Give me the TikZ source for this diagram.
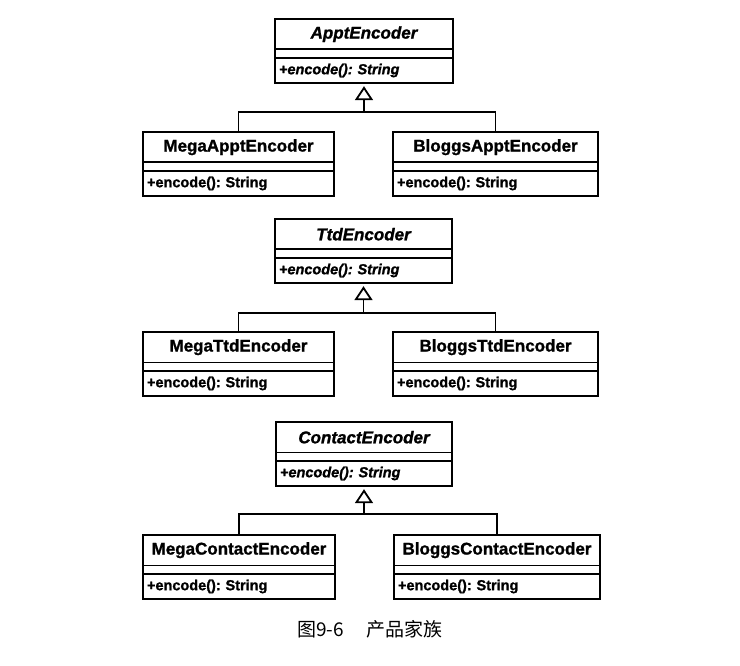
\documentclass[tikz,border=0pt]{standalone}
\usepackage{fontspec}
\setmainfont{Liberation Sans}[BoldFeatures={FakeBold=1.2},BoldItalicFeatures={FakeBold=1.2}]
\newfontfamily\cjk{Noto Sans CJK SC}
\usetikzlibrary{arrows.meta}
\frenchspacing
\tikzset{
  umlline/.style={line width=1.8pt},
  cname/.style={minimum height=30pt, inner sep=0pt, anchor=north,
    font=\fontsize{17}{20}\selectfont\bfseries},
  cgap/.style={minimum height=8pt, inner sep=0pt, anchor=north},
  cmeth/.style={minimum height=25pt, inner xsep=4pt, inner ysep=0pt, anchor=north,
    align=left, font=\fontsize{14.5}{17}\selectfont\bfseries},
  conn/.style={umlline},
  inh/.style={umlline, -{Triangle[open, length=14pt, width=18pt, line width=1.8pt]}, shorten >=3pt},
  captionstyle/.style={font=\cjk\fontsize{19}{22}\selectfont, inner sep=0pt}
}
\newcommand\umlcls[7]{%
  \node[cname, minimum width=#4pt] (#1) at (#2,#3) {#7#5};
  \node[cgap, minimum width=#4pt] (#1g) at (#1.south) {};
  \node[cmeth, minimum width=#4pt, text width=#4pt-8pt] (#1m) at (#1g.south) {\raisebox{1.5pt}{#7#6}};
  \draw[umlline] (#1.north west) rectangle (#1m.south east);
  \draw[umlline] (#1.south west) -- (#1.south east);
  \draw[umlline] (#1g.south west) -- (#1g.south east);
}
\begin{document}
\begin{tikzpicture}[x=1pt,y=-1pt]
\useasboundingbox (0,0) rectangle (740,666);
% Appt
\umlcls{AE}{364}{19}{178}{ApptEncoder}{+encode(): String}{\itshape}
\umlcls{MA}{238.5}{132}{191}{MegaApptEncoder}{+encode(): String}{}
\umlcls{BA}{495.5}{132}{205}{BloggsApptEncoder}{+encode(): String}{}
\coordinate (j1) at (364,112);
\draw[conn] (MA.north) |- (j1) -| (BA.north);
\draw[inh] (j1) -- (AEm.south);
% Ttd
\umlcls{TE}{363.5}{219}{177}{TtdEncoder}{+encode(): String}{\itshape}
\umlcls{MT}{238.5}{332}{191}{MegaTtdEncoder}{+encode(): String}{}
\umlcls{BT}{495.5}{332}{205}{BloggsTtdEncoder}{+encode(): String}{}
\coordinate (j2) at (363.5,313);
\draw[conn] (MT.north) |- (j2) -| (BT.north);
\draw[inh] (j2) -- (TEm.south);
% Contact
\umlcls{CE}{364}{422}{176}{ContactEncoder}{+encode(): String}{\itshape}
\umlcls{MC}{239}{535}{192}{MegaContactEncoder}{+encode(): String}{}
\umlcls{BC}{497}{535}{206}{BloggsContactEncoder}{+encode(): String}{}
\coordinate (j3) at (364,514);
\draw[conn] (MC.north) |- (j3) -| (BC.north);
\draw[inh] (j3) -- (CEm.south);
% caption
\node[captionstyle] (cap) at (370,629) {图9-6\hspace{1.2em}产品家族};
\end{tikzpicture}
\end{document}
